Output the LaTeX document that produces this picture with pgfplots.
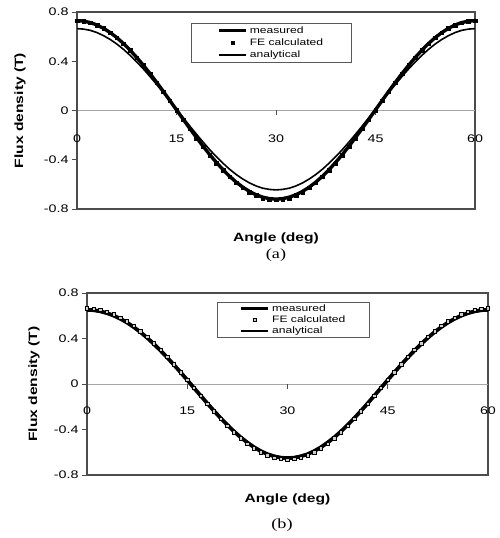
\documentclass[border=0pt]{standalone}
\usepackage{fontspec}
\usepackage{pgfplots}
\usepackage{pgfplotstable}
\pgfplotsset{compat=1.18}
\setmainfont{Liberation Sans}
\newfontfamily\wsans[FakeStretch=1.3]{Liberation Sans}
\newfontfamily\wserif[FakeStretch=1.3]{Liberation Serif}

\pgfplotstableread{
x ma fa aa mb fb ab
0 0.730 0.730 0.665 0.652 0.664 0.644
1 0.726 0.726 0.661 0.649 0.661 0.641
2 0.714 0.714 0.651 0.639 0.651 0.631
3 0.695 0.694 0.633 0.623 0.634 0.615
4 0.667 0.667 0.608 0.601 0.612 0.594
5 0.633 0.632 0.577 0.573 0.583 0.566
6 0.592 0.591 0.540 0.540 0.550 0.534
7 0.544 0.543 0.497 0.500 0.509 0.494
8 0.490 0.489 0.448 0.456 0.464 0.451
9 0.431 0.430 0.395 0.406 0.413 0.401
10 0.368 0.366 0.338 0.352 0.358 0.348
11 0.300 0.298 0.276 0.294 0.299 0.291
12 0.229 0.227 0.212 0.233 0.237 0.230
13 0.156 0.153 0.146 0.169 0.172 0.167
14 0.081 0.078 0.078 0.103 0.104 0.102
15 0.005 0.002 0.010 0.035 0.035 0.035
16 -0.071 -0.074 -0.058 -0.034 -0.035 -0.033
17 -0.146 -0.149 -0.126 -0.102 -0.104 -0.100
18 -0.219 -0.223 -0.192 -0.170 -0.174 -0.168
19 -0.290 -0.294 -0.256 -0.236 -0.241 -0.233
20 -0.358 -0.362 -0.318 -0.300 -0.306 -0.296
21 -0.421 -0.426 -0.375 -0.360 -0.367 -0.355
22 -0.480 -0.485 -0.428 -0.417 -0.425 -0.412
23 -0.534 -0.539 -0.477 -0.469 -0.478 -0.463
24 -0.582 -0.587 -0.520 -0.515 -0.525 -0.509
25 -0.623 -0.628 -0.557 -0.556 -0.566 -0.550
26 -0.657 -0.663 -0.588 -0.590 -0.601 -0.583
27 -0.685 -0.690 -0.613 -0.617 -0.628 -0.610
28 -0.704 -0.710 -0.631 -0.636 -0.648 -0.628
29 -0.716 -0.722 -0.641 -0.648 -0.660 -0.640
30 -0.720 -0.726 -0.645 -0.652 -0.664 -0.644
31 -0.716 -0.722 -0.641 -0.648 -0.660 -0.640
32 -0.704 -0.710 -0.631 -0.636 -0.648 -0.628
33 -0.685 -0.690 -0.613 -0.617 -0.628 -0.610
34 -0.657 -0.663 -0.588 -0.590 -0.601 -0.583
35 -0.623 -0.628 -0.557 -0.556 -0.566 -0.550
36 -0.582 -0.587 -0.520 -0.515 -0.525 -0.509
37 -0.534 -0.539 -0.477 -0.469 -0.478 -0.463
38 -0.480 -0.485 -0.428 -0.417 -0.425 -0.412
39 -0.421 -0.426 -0.375 -0.360 -0.367 -0.355
40 -0.358 -0.362 -0.318 -0.300 -0.306 -0.296
41 -0.290 -0.294 -0.256 -0.236 -0.241 -0.233
42 -0.219 -0.223 -0.192 -0.170 -0.174 -0.168
43 -0.146 -0.149 -0.126 -0.102 -0.104 -0.100
44 -0.071 -0.074 -0.058 -0.034 -0.035 -0.033
45 0.005 0.002 0.010 0.035 0.035 0.035
46 0.081 0.078 0.078 0.103 0.104 0.102
47 0.156 0.153 0.146 0.169 0.172 0.167
48 0.229 0.227 0.212 0.233 0.237 0.230
49 0.300 0.298 0.276 0.294 0.299 0.291
50 0.368 0.366 0.338 0.352 0.358 0.348
51 0.431 0.430 0.395 0.406 0.413 0.401
52 0.490 0.489 0.448 0.456 0.464 0.451
53 0.544 0.543 0.497 0.500 0.509 0.494
54 0.592 0.591 0.540 0.540 0.550 0.534
55 0.633 0.632 0.577 0.573 0.583 0.566
56 0.667 0.667 0.608 0.601 0.612 0.594
57 0.695 0.694 0.633 0.623 0.634 0.615
58 0.714 0.714 0.651 0.639 0.651 0.631
59 0.726 0.726 0.661 0.649 0.661 0.641
60 0.730 0.730 0.665 0.652 0.664 0.644
}\fluxdata

\pgfplotsset{
  fluxaxis/.style={
    scale only axis,
    xmin=0, xmax=60, ymin=-0.8, ymax=0.8,
    xtick={0,15,30,45,60}, xticklabels={0,15,30,45,60},
    ytick={-0.8,-0.4,0,0.4,0.8}, yticklabels={-0.8,-0.4,0,0.4,0.8},
    tick align=outside, major tick length=5pt,
    ytick pos=left,
    major x tick style={draw=none},
    tick style={gray!60!black, line width=0.8pt},
    axis line style={gray!60!black, line width=1.3pt},
    tick label style={font=\wsans\fontsize{11}{13}\selectfont, text=black},
    label style={font=\wsans\bfseries\fontsize{12}{14}\selectfont},
    extra y ticks={0}, extra y tick labels={},
    extra y tick style={grid=major, major grid style={gray!70, line width=0.9pt}, major tick length=0pt},
    legend cell align=left,
    legend image code/.code={\draw[mark repeat=2,mark phase=2,##1] plot coordinates {(0pt,0pt) (13.5pt,0pt) (27pt,0pt)};},
    legend style={draw=gray!70!black, line width=0.9pt, font=\wsans\fontsize{9.3}{10}\selectfont, anchor=north west},
  }
}

\begin{document}
\begin{tikzpicture}
\path[use as bounding box] (0pt,0pt) rectangle (499pt,538pt);

\begin{axis}[fluxaxis, at={(77pt,329pt)}, anchor=south west, width=398pt, height=197pt,
  x tick label style={yshift=82.7pt},
  xlabel={Angle (deg)}, ylabel={Flux density (T)},
  xlabel style={at={(axis description cs:0.5,-0.147)}, anchor=center},
  ylabel style={at={(axis description cs:-0.143,0.5)}, anchor=center},
  legend style={at={(axis description cs:0.2864,0.944)}, inner xsep=26pt, inner ysep=1pt}]
\addplot[black, line width=3.4pt] table[x=x,y=ma]{\fluxdata};
\addlegendentry{measured}
\addplot[only marks, mark=square*, mark size=1.8pt, mark options={draw=black, fill=black, line width=0.4pt}] table[x=x,y=fa]{\fluxdata};
\addlegendentry{FE calculated}
\addplot[black, line width=1.6pt] table[x=x,y=aa]{\fluxdata};
\addlegendentry{analytical}
\pgfplotsinvokeforeach{0,15,30,45,60}{\draw[gray!60!black, line width=0.8pt] (axis cs:#1,0) -- ++(0pt,-5pt);}
\end{axis}

\begin{axis}[fluxaxis, at={(87pt,63pt)}, anchor=south west, width=401pt, height=182pt,
  x tick label style={yshift=76.7pt},
  xlabel={Angle (deg)}, ylabel={Flux density (T)},
  xlabel style={at={(axis description cs:0.5,-0.132)}, anchor=center},
  ylabel style={at={(axis description cs:-0.132,0.5)}, anchor=center},
  legend style={at={(axis description cs:0.324,0.9505)}, inner xsep=22pt, inner ysep=0.5pt, nodes={inner ysep=1.5pt}}]
\addplot[black, line width=3.8pt] table[x=x,y=mb]{\fluxdata};
\addlegendentry{measured}
\addplot[only marks, mark=square*, mark size=1.7pt, mark options={draw=black, fill=gray!40, line width=0.6pt}] table[x=x,y=fb]{\fluxdata};
\addlegendentry{FE calculated}
\addplot[black, line width=1.5pt] table[x=x,y=ab]{\fluxdata};
\addlegendentry{analytical}
\pgfplotsinvokeforeach{0,15,30,45,60}{\draw[gray!60!black, line width=0.8pt] (axis cs:#1,0) -- ++(0pt,-5pt);}
\end{axis}

\node[font=\wserif\fontsize{14}{16}\selectfont] at (276pt,283pt) {(a)};
\node[font=\wserif\fontsize{14}{16}\selectfont] at (282pt,13pt) {(b)};
\end{tikzpicture}
\end{document}
